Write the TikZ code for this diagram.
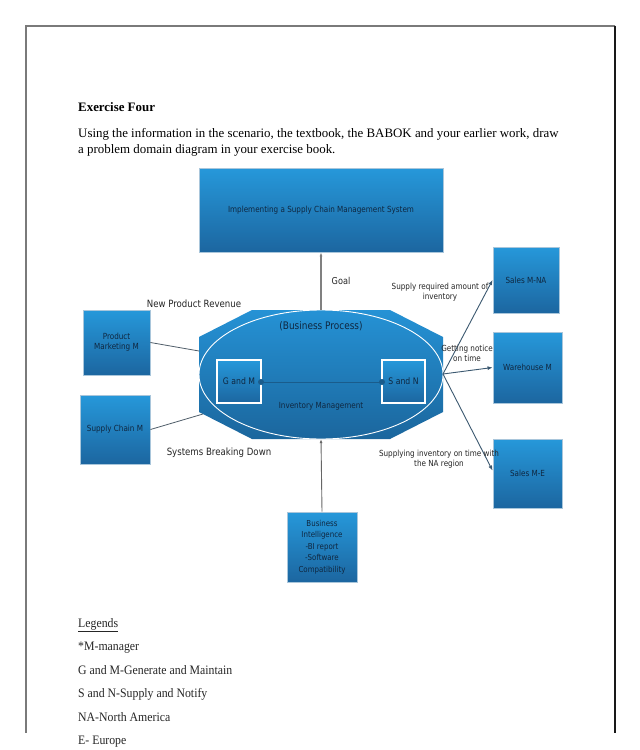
\documentclass[tikz,border=0pt]{standalone}
\usepackage{fontspec}
\setmainfont{Liberation Serif}
\newfontfamily\dfont[FakeStretch=0.86]{DejaVu Sans}
\newfontfamily\legfont[FakeStretch=0.915]{Liberation Serif}
\usetikzlibrary{arrows.meta,shapes.geometric}
\definecolor{boxtop}{HTML}{2698DA}
\definecolor{boxbot}{HTML}{1C66A0}
\definecolor{boxedge}{HTML}{A9C6DB}
\definecolor{octtop}{HTML}{2592D5}
\definecolor{octbot}{HTML}{1B669D}
\definecolor{navy}{HTML}{0F2740}
\definecolor{wire}{HTML}{505E6A}
\definecolor{arrowc}{HTML}{3B5870}
\definecolor{dotc}{HTML}{1A5C8C}
\definecolor{framegray}{HTML}{7A7A7A}
\newcommand{\dsz}[2]{\dfont\fontsize{#1}{#2}\selectfont}
\tikzset{
  bluebox/.style={rectangle, draw=boxedge, line width=0.9pt, top color=boxtop, bottom color=boxbot,
    inner sep=1pt, text=navy, align=center, font=\dsz{8.4}{10}},
  innerbox/.style={rectangle, draw=white, line width=1.1pt, top color=boxtop, bottom color=boxbot,
    inner sep=1pt, text=navy, align=center, font=\dsz{9}{10}},
  lbl/.style={text=black!85, align=center, inner sep=0pt},
  wirel/.style={draw=wire, line width=0.8pt},
  arrowl/.style={draw=arrowc, line width=0.9pt, -{Latex[length=5pt,width=4pt]}},
  bodytext/.style={anchor=base west, inner sep=0pt, font=\fontsize{12.9}{15}\selectfont},
  legtext/.style={anchor=base west, inner sep=0pt, text=black!85, font=\legfont\fontsize{12.9}{15}\selectfont},
}
\begin{document}
\begin{tikzpicture}[x=1pt,y=-1pt]
\useasboundingbox (0,0) rectangle (640,750);
\fill[white] (0,0) rectangle (640,750);
% page frame
\draw[framegray, line width=1.6pt] (615,25.7) -- (25.7,25.7) -- (25.7,733);
\draw[black!90, line width=1.6pt] (615,25.7) -- (615,733);

% heading and text
\node[bodytext, font=\bfseries\fontsize{12.9}{15}\selectfont] (title) at (78,111.5) {Exercise Four};
\node[bodytext] (line1) at (78,137.5) {Using the information in the scenario, the textbook, the BABOK and your earlier work, draw};
\node[bodytext] (line2) at (78,153.5) {a problem domain diagram in your exercise book.};

% top box
\node[bluebox, minimum width=244pt, minimum height=84pt] (top) at (321,210) {Implementing a Supply Chain Management System};

% octagon (business process)
\node[minimum width=244pt, minimum height=129pt, inner sep=0pt] (proc) at (321,374.5) {};
\shade[top color=octtop, bottom color=octbot]
  (252,310) -- (390,310) -- (443,337) -- (443,412) -- (390,439) -- (252,439) -- (199,412) -- (199,337) -- cycle;
\node[ellipse, draw=white, line width=0.9pt, minimum width=244pt, minimum height=129pt, inner sep=0pt] (ell) at (321,374.5) {};
\node[text=navy, inner sep=0pt, font=\dsz{10.4}{12}] (bp) at (321,326) {(Business Process)};
\node[text=navy, inner sep=0pt, font=\dsz{8.4}{10}] (im) at (321,406) {Inventory Management};

% inner boxes
\node[innerbox, minimum width=44pt, minimum height=43pt] (gm) at (239,381.5) {G and M};
\node[innerbox, minimum width=43pt, minimum height=43pt] (sn) at (403.5,381.5) {S and N};
\coordinate (gmdot) at (261,382);
\coordinate (sndot) at (382,382);
\draw[dotc, line width=0.7pt] (gmdot) -- (sndot);
\fill[dotc] (gmdot) circle (3pt);
\fill[dotc] (sndot) circle (3pt);

% left boxes
\node[bluebox, minimum width=67pt, minimum height=65pt] (pm) at (116.5,342.5) {Product\\Marketing M};
\node[bluebox, minimum width=70pt, minimum height=69pt] (sc) at (115,429.5) {Supply Chain M};
\coordinate (pmE) at (199,351);
\coordinate (scE) at (203,414);
\draw[wirel] (pm.east) -- (pmE);
\draw[wirel] (sc.east) -- (scE);

% right boxes
\node[bluebox, minimum width=66pt, minimum height=66pt] (nas) at (526,280) {Sales M-NA};
\node[bluebox, minimum width=69pt, minimum height=71pt] (wh) at (527.5,367.5) {Warehouse M};
\node[bluebox, minimum width=69pt, minimum height=69pt] (sme) at (527.5,473.5) {Sales M-E};
\coordinate (fan) at (443,374);
\draw[arrowl] (fan) -- (nas.west);
\draw[arrowl] (fan) -- (wh.west);
\draw[arrowl] (fan) -- ([yshift=3pt]sme.west);

% bottom box
\node[bluebox, minimum width=70pt, minimum height=70pt, font=\dsz{8.2}{11.6}] (bi) at (322,547) {Business\\Intelligence\\-BI report\\-Software\\Compatibility};

% vertical arrows
\draw[draw=black!50, line width=1.1pt, -{Latex[length=4pt,width=3pt]}] (proc.north) -- (top.south);
\draw[draw=black!60, line width=0.9pt, -{Latex[length=4pt,width=3pt]}] (bi.north) -- (proc.south);

% labels
\node[lbl, font=\dsz{9.5}{11}] (goal) at (341,281) {Goal};
\node[lbl, font=\dsz{10}{12}] (npr) at (194,304) {New Product Revenue};
\node[lbl, font=\dsz{10}{12}] (sbd) at (219,453) {Systems Breaking Down};
\node[lbl, font=\dsz{8.4}{10}] (sra) at (440,292) {Supply required amount of\\inventory};
\node[lbl, font=\dsz{8.4}{10}] (gn) at (467,353) {Getting notice\\on time};
\node[lbl, font=\dsz{8.4}{10}] (sit) at (439,459) {Supplying inventory on time with\\the NA region};

% legend
\node[legtext] (leg) at (78,627) {\underline{Legends}};
\node[legtext] (l1) at (78,650.5) {*M-manager};
\node[legtext] (l2) at (78,674) {G and M-Generate and Maintain};
\node[legtext] (l3) at (78,697) {S and N-Supply and Notify};
\node[legtext] (l4) at (78,721) {NA-North America};
\node[legtext] (l5) at (78,744) {E- Europe};
\end{tikzpicture}
\end{document}
